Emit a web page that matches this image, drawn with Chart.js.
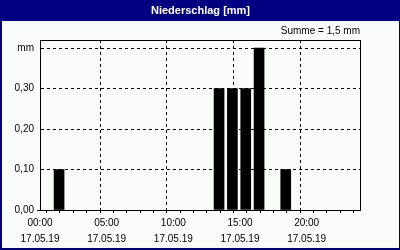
<!DOCTYPE html>
<html>
<head>
<meta charset="utf-8">
<script src="https://cdn.jsdelivr.net/npm/chart.js@4"></script>
<style>
  html, body { margin: 0; padding: 0; background: #fafcfa; }
  #wrap { width: 400px; height: 250px; }
</style>
</head>
<body>
<div id="wrap"><canvas id="c" width="400" height="250"></canvas></div>
<script>
// ---- data ----
const barStartHours = [1, 13, 14, 15, 16, 18];          // hour at which each hourly bar starts
const rainMm        = [0.1, 0.3, 0.3, 0.3, 0.4, 0.1];   // precipitation per hour [mm]
const xLabelHours   = [0, 5, 10, 15, 20];
const xTimeLabels   = ['00:00', '05:00', '10:00', '15:00', '20:00'];
const xDateLabels   = ['17.05.19', '17.05.19', '17.05.19', '17.05.19', '17.05.19'];
const yTickLabels   = ['0,00', '0,10', '0,20', '0,30', 'mm'];
const titleText     = 'Niederschlag [mm]';
const sumText       = 'Summe = 1,5 mm';

const NAVY = '#000080';
Chart.defaults.font.family = "'Liberation Sans', Arial, sans-serif";
Chart.defaults.font.size = 10;
Chart.defaults.color = '#000';

const frame = {
  id: 'frame',
  beforeDraw(chart) {
    const ctx = chart.ctx, W = chart.width, H = chart.height;
    ctx.save();
    ctx.fillStyle = '#fafcfa';
    ctx.fillRect(0, 0, W, H);
    ctx.fillStyle = NAVY;
    ctx.fillRect(0, 0, W, 21);
    ctx.fillRect(0, 0, 2, H);
    ctx.fillRect(W - 1, 0, 1, H);
    ctx.fillRect(0, H - 2, W, 2);
    ctx.restore();
  },
  afterDatasetsDraw(chart) {
    const a = chart.chartArea, ctx = chart.ctx;
    ctx.save();
    ctx.strokeStyle = '#000';
    ctx.lineWidth = 1;
    ctx.strokeRect(Math.round(a.left) + 0.5, Math.round(a.top) + 0.5,
                   Math.round(a.right - a.left), Math.round(a.bottom - a.top));
    ctx.restore();
  }
};

new Chart(document.getElementById('c'), {
  type: 'bar',
  data: {
    datasets: [{
      data: barStartHours.map((h, i) => ({ x: h + 0.43, y: rainMm[i] })),
      backgroundColor: '#000',
      borderWidth: 0,
      barThickness: 10
    }]
  },
  options: {
    responsive: false,
    animation: false,
    devicePixelRatio: 1,
    layout: { padding: { left: 2, right: 1, top: 0, bottom: 2 } },
    plugins: {
      legend: { display: false },
      tooltip: { enabled: false },
      title: {
        display: true,
        text: titleText,
        color: '#fff',
        font: { size: 11, weight: 'bold', lineHeight: 13 / 11 },
        padding: { top: 4, bottom: 4 }
      },
      subtitle: {
        display: true,
        text: sumText,
        align: 'end',
        fullSize: false,
        color: '#000',
        font: { size: 10, lineHeight: 1.2 },
        padding: { top: 4, bottom: 3 }
      }
    },
    scales: {
      x: {
        type: 'linear',
        min: 0,
        max: 24,
        offset: false,
        afterFit(s) { s.height = 38; },
        ticks: {
          stepSize: 1,
          autoSkip: false,
          maxRotation: 0,
          padding: 2,
          font: { size: 10, lineHeight: '16px' },
          callback(v) {
            const i = xLabelHours.indexOf(v);
            return i >= 0 ? [xTimeLabels[i], xDateLabels[i]] : '';
          }
        },
        grid: {
          color: c => (c.tick && c.tick.value % 5 === 0 && c.tick.value > 0 && c.tick.value < 24) ? '#000' : 'rgba(0,0,0,0)',
          tickColor: '#000',
          tickLength: 3,
          lineWidth: 1
        },
        border: { color: '#000', dash: [3, 3] }
      },
      y: {
        min: 0,
        max: 0.42,
        afterFit(s) { s.width = 38; },
        ticks: {
          stepSize: 0.1,
          includeBounds: false,
          padding: 3,
          callback(v, i) { return yTickLabels[i]; }
        },
        grid: {
          color: c => (c.tick && c.tick.value > 0.001) ? '#000' : 'rgba(0,0,0,0)',
          tickColor: c => (c.tick && c.tick.value < 0.001) ? '#000' : 'rgba(0,0,0,0)',
          tickLength: 3,
          lineWidth: 1
        },
        border: { color: '#000', dash: [3, 3] }
      },
      y2: {
        position: 'right',
        display: true,
        afterFit(s) { s.width = 39; },
        grid: { display: false },
        ticks: { display: false },
        border: { display: false }
      }
    }
  },
  plugins: [frame]
});
</script>
</body>
</html>
